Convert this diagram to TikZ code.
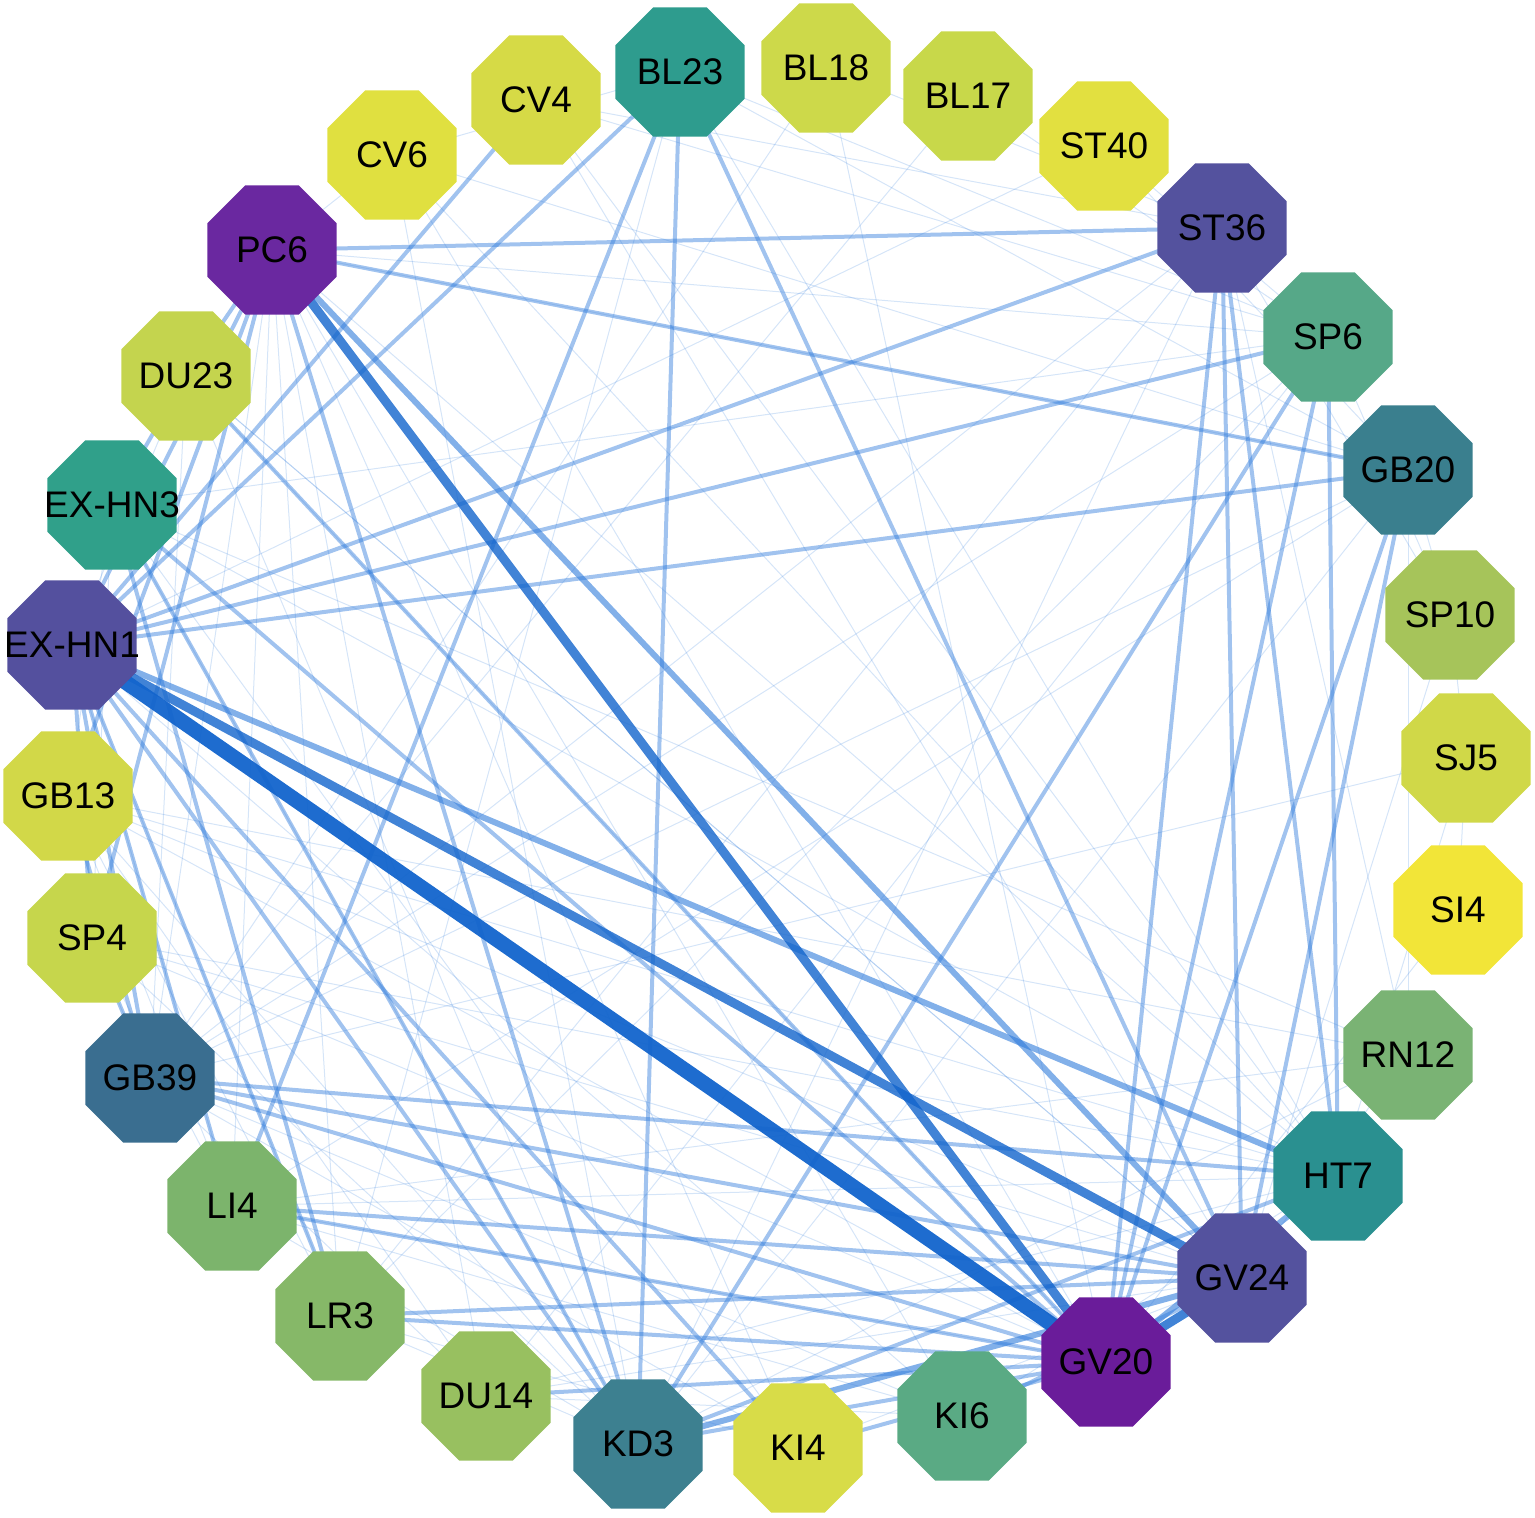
\documentclass[tikz,border=0pt]{standalone}
\usepackage{fontspec}
\setmainfont{Liberation Sans}
\usetikzlibrary{shapes.geometric}
\definecolor{ec}{HTML}{2F7BDB}
\definecolor{ed}{HTML}{1264CC}
\begin{document}
\begin{tikzpicture}[x=1pt,y=-1pt,
  oct/.style={regular polygon,regular polygon sides=8,minimum size=140pt,inner sep=0pt,draw=none,font=\fontsize{37}{40}\selectfont},
  e1/.style={draw=ec,line width=1pt,opacity=0.2},
  e2/.style={draw=ec,line width=4pt,opacity=0.45},
  e3/.style={draw=ec,line width=6pt,opacity=0.6},
  e4/.style={draw=ed,line width=9pt,opacity=0.8},
  e5/.style={draw=ed,line width=15pt,opacity=0.95}]
\useasboundingbox (0,0) rectangle (1535,1518);
\foreach \n/\x/\y in {
BL23/680/72, BL18/826/68, BL17/968/96, ST40/1104/146,
ST36/1222/228, SP6/1328/337, GB20/1408/470, SP10/1450/615,
SJ5/1466/758, SI4/1458/910, RN12/1408/1055, HT7/1338/1176,
GV24/1242/1278, GV20/1106/1362, KI6/962/1416, KI4/798/1448,
KD3/638/1444, DU14/486/1396, LR3/340/1316, LI4/232/1206,
GB39/150/1078, SP4/92/938, GB13/68/796, HN1/72/645,
HN3/112/505, DU23/186/376, PC6/272/250, CV6/392/155, CV4/536/100}
  {\coordinate (\n) at (\x,\y);}
% thin edges
\foreach \a/\b in {PC6/HT7,PC6/GB20,PC6/SP6,PC6/LR3,PC6/LI4,PC6/GB39,PC6/DU14,PC6/KI6,PC6/KI4,CV6/GV20,CV6/GB20,CV6/HT7,CV4/GV24,CV4/SP6,CV4/HT7,
BL18/GV20,BL18/ST36,BL18/GB39,BL17/SP6,ST40/SP6,ST40/HN1,ST36/GB39,ST36/LR3,ST36/KD3,ST36/RN12,ST36/SP10,SP6/SP10,SP6/LR3,SP6/GB39,SP6/DU14,
GB20/SP10,GB20/KD3,GB20/LI4,GB20/GB39,GB20/RN12,SP10/SJ5,SP10/GV24,SJ5/HT7,SJ5/SI4,SJ5/GB39,SI4/GV20,RN12/GV24,RN12/GB13,RN12/KD3,RN12/LI4,RN12/HN3,
HT7/GB13,HT7/SP4,HT7/LI4,HT7/DU14,GV24/SP4,GV24/GB13,GV24/DU23,GV20/SP4,GV20/GB13,GV20/DU23,GV20/LI4,KI6/GB39,KI6/HN1,KI6/HT7,KI4/GB39,KI4/HN3,KI4/GV24,
KD3/SP4,KD3/GB13,KD3/HN3,KD3/DU23,KD3/LI4,DU14/GB39,DU14/GV24,LR3/GB13,LR3/HN1,LR3/KD3,LI4/HN1,LI4/GB13,LI4/KI6,GB39/DU23,GB39/SP4,SP4/HN3,SP4/LI4,GB13/HN3,
HN3/HT7,HN3/SP6,DU23/HN1,DU23/GV24,PC6/CV6,CV6/KD3,BL23/SP6,BL23/GB20,BL23/HT7,BL23/LR3,BL23/CV6,CV4/ST36,BL17/GB39,ST40/GB20,DU14/KI6,LR3/KI4,GB13/DU14}
 {\draw[e1] (\a)--(\b);}
% medium edges
\foreach \a/\b in {BL23/HN1,BL23/GV24,BL23/LI4,BL23/KD3,PC6/ST36,PC6/KD3,PC6/GB20,ST36/HN1,SP6/HN1,GB20/HN1,ST36/GV20,ST36/GV24,ST36/HT7,
SP6/HT7,SP6/GV20,GB20/GV20,GB20/GV24,HN1/KD3,HN1/LR3,HN1/LI4,HN3/GV20,HN3/KD3,HN3/LR3,GB39/GV24,GB39/HT7,GB39/GV20,LI4/GV24,LI4/GV20,LR3/GV24,
LR3/GV20,DU14/GV20,KD3/GV20,KD3/HT7,KD3/SP6,KI6/GV24,KI4/GV20,DU23/HN3,PC6/DU23,PC6/HN1,HN1/GB39,HN1/SP4,GB13/GB39,SP4/GB39,CV4/HN1,PC6/GB13,PC6/SP4,DU23/GV20,HN1/KI4}
 {\draw[e2] (\a)--(\b);}
\foreach \a/\b in {HN1/HT7,PC6/GV24,KD3/GV24,GV20/HT7}
 {\draw[e3] (\a)--(\b);}
\foreach \a/\b in {HN1/GV24,PC6/GV20,GV20/GV24}
 {\draw[e4] (\a)--(\b);}
\draw[e5] (HN1)--(GV20);
\foreach \n/\x/\y/\c/\t in {
BL23/680/72/2E9C8E/BL23, BL18/826/68/CDD94A/BL18, BL17/968/96/C8D84A/BL17, ST40/1104/146/E2E040/ST40,
ST36/1222/228/54529E/ST36, SP6/1328/337/56A888/SP6, GB20/1408/470/3A7F8E/GB20, SP10/1450/615/A6C45A/SP10,
SJ5/1466/758/D0D848/SJ5, SI4/1458/910/F2E538/SI4, RN12/1408/1055/7AB374/RN12, HT7/1338/1176/2A9090/HT7,
GV24/1242/1278/54529E/GV24, GV20/1106/1362/6A1C9A/GV20, KI6/962/1416/5AAA84/KI6, KI4/798/1448/D8DC48/KI4,
KD3/638/1444/3D8090/KD3, DU14/486/1396/98C060/DU14, LR3/340/1316/86B868/LR3, LI4/232/1206/7CB46C/LI4,
GB39/150/1078/3A6E90/GB39, SP4/92/938/C6D64C/SP4, GB13/68/796/D2D848/GB13, HN1/72/645/54509E/EX-HN1,
HN3/112/505/30A08A/EX-HN3, DU23/186/376/C4D44E/DU23, PC6/272/250/6A28A0/PC6, CV6/392/155/E0E040/CV6, CV4/536/100/D6DA46/CV4}
 {\definecolor{nc}{HTML}{\c}\node[oct,fill=nc] (n\n) at (\x,\y) {};
  \node at (\x,\y) {\fontsize{37}{40}\selectfont\t};}
\end{tikzpicture}
\end{document}
